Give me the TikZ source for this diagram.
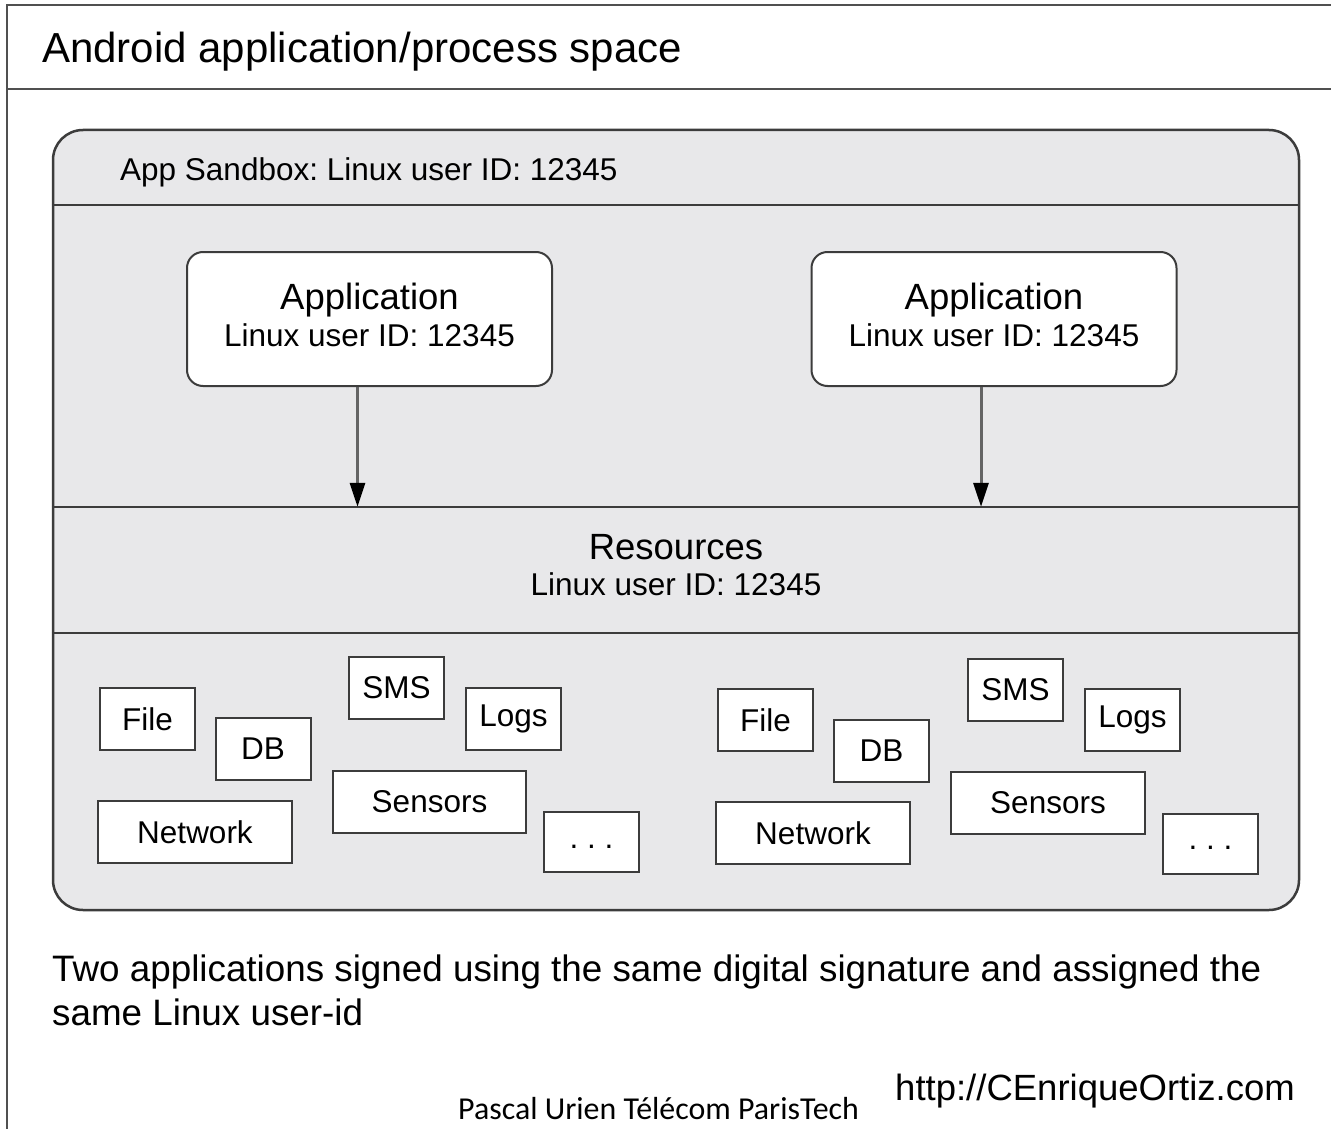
\documentclass[tikz,border=0pt]{standalone}
\usepackage{fontspec}
\setmainfont{Liberation Sans}
\newfontfamily\calibrifont{Carlito}
\usetikzlibrary{arrows.meta}
\definecolor{sbx}{RGB}{232,232,234}
\definecolor{linec}{RGB}{60,60,60}
\definecolor{framec}{RGB}{80,80,80}
\definecolor{arrc}{RGB}{100,100,100}
\newcommand{\fA}{\fontsize{36.5}{42}\selectfont}
\newcommand{\fB}{\fontsize{31.5}{36}\selectfont}
\frenchspacing
\begin{document}
\frenchspacing
\begin{tikzpicture}[x=1pt,y=-1pt,
  frameline/.style={draw=framec,line width=2.5pt},
  divline/.style={draw=linec,line width=2.5pt},
  resbox/.style={draw=linec,line width=2pt,fill=white,minimum width=95pt,minimum height=62pt,inner sep=0pt,font=\fB},
  appbox/.style={draw=linec,line width=2pt,fill=white,rounded corners=16pt,minimum width=365pt,minimum height=134pt,inner sep=0pt},
  arr/.style={draw=arrc,line width=3pt,-{Triangle[length=24pt,width=15pt,color=black]}},
  txt/.style={inner sep=0pt,anchor=base}]
\useasboundingbox (0,0) rectangle (1331,1129);
\fill[white] (0,0) rectangle (1331,1129);
% outer frame
\draw[frameline] (7,1129) -- (7,5) -- (1331,5);
\draw[frameline] (7,89) -- (1331,89);
\node[txt,anchor=base west,font=\fontsize{42}{48}\selectfont] (title) at (42,63) {Android application/process space};
% sandbox
\node[draw=linec,line width=2.5pt,fill=sbx,rounded corners=30pt,minimum width=1246pt,minimum height=780pt,inner sep=0pt] (sandbox) at (676,520) {};
\draw[divline] (sandbox.west |- 0,205) -- (sandbox.east |- 0,205);
\draw[divline] (sandbox.west |- 0,507) -- (sandbox.east |- 0,507);
\draw[divline] (sandbox.west |- 0,633) -- (sandbox.east |- 0,633);
\node[txt,anchor=base west,font=\fB] (sblabel) at (120,180) {App Sandbox: Linux user ID: 12345};
% applications
\node[appbox] (appL) at (369.5,319) {};
\node[txt,font=\fA] (appLa) at (369.5,309) {Application};
\node[txt,font=\fB] (appLb) at (369.5,346) {Linux user ID: 12345};
\node[appbox] (appR) at (994,319) {};
\node[txt,font=\fA] (appRa) at (994,309) {Application};
\node[txt,font=\fB] (appRb) at (994,346) {Linux user ID: 12345};
% resources band
\node[minimum width=1246pt,minimum height=126pt,inner sep=0pt] (resband) at (676,570) {};
\node[txt,font=\fA] (resa) at (676,559) {Resources};
\node[txt,font=\fB] (resb) at (676,595) {Linux user ID: 12345};
% arrows
\draw[arr] ([xshift=-12pt]appL.south) -- ([xshift=-12pt]appL.south |- resband.north);
\draw[arr] ([xshift=-13pt]appR.south) -- ([xshift=-13pt]appR.south |- resband.north);
% resources left
\node[resbox] (fileL) at (147.5,719) {File};
\node[resbox] (dbL) at (263,749) {DB};
\node[resbox] (smsL) at (396.5,688) {SMS};
\node[resbox] (logsL) at (513.5,719) {Logs};
\node[resbox,minimum width=194pt] (netL) at (195,832) {Network};
\node[resbox,minimum width=193pt] (senL) at (429.5,801.5) {Sensors};
\node[resbox,minimum height=60pt,text depth=0pt,text height=12pt] (dotsL) at (591.5,842) {.\ .\ .};
% resources right
\node[resbox] (fileR) at (765.5,720) {File};
\node[resbox] (dbR) at (881.5,750.5) {DB};
\node[resbox] (smsR) at (1015.5,690) {SMS};
\node[resbox] (logsR) at (1132.5,720) {Logs};
\node[resbox,minimum width=194pt] (netR) at (813,833) {Network};
\node[resbox,minimum width=194pt] (senR) at (1048,803) {Sensors};
\node[resbox,minimum height=60pt,text depth=0pt,text height=12pt] (dotsR) at (1210.5,843.5) {.\ .\ .};
% captions
\node[txt,anchor=base west,font=\fontsize{36.8}{44}\selectfont] (cap1) at (52,981) {Two applications signed using the same digital signature and assigned the};
\node[txt,anchor=base west,font=\fontsize{36.8}{44}\selectfont] (cap2) at (52,1025) {same Linux user-id};
\node[txt,anchor=base west,font=\fA] (url) at (895,1100) {http://CEnriqueOrtiz.com};
\node[txt,anchor=base west,font=\calibrifont\fontsize{31.9}{36}\selectfont] (author) at (458,1119) {Pascal Urien Télécom ParisTech};
\end{tikzpicture}
\end{document}
